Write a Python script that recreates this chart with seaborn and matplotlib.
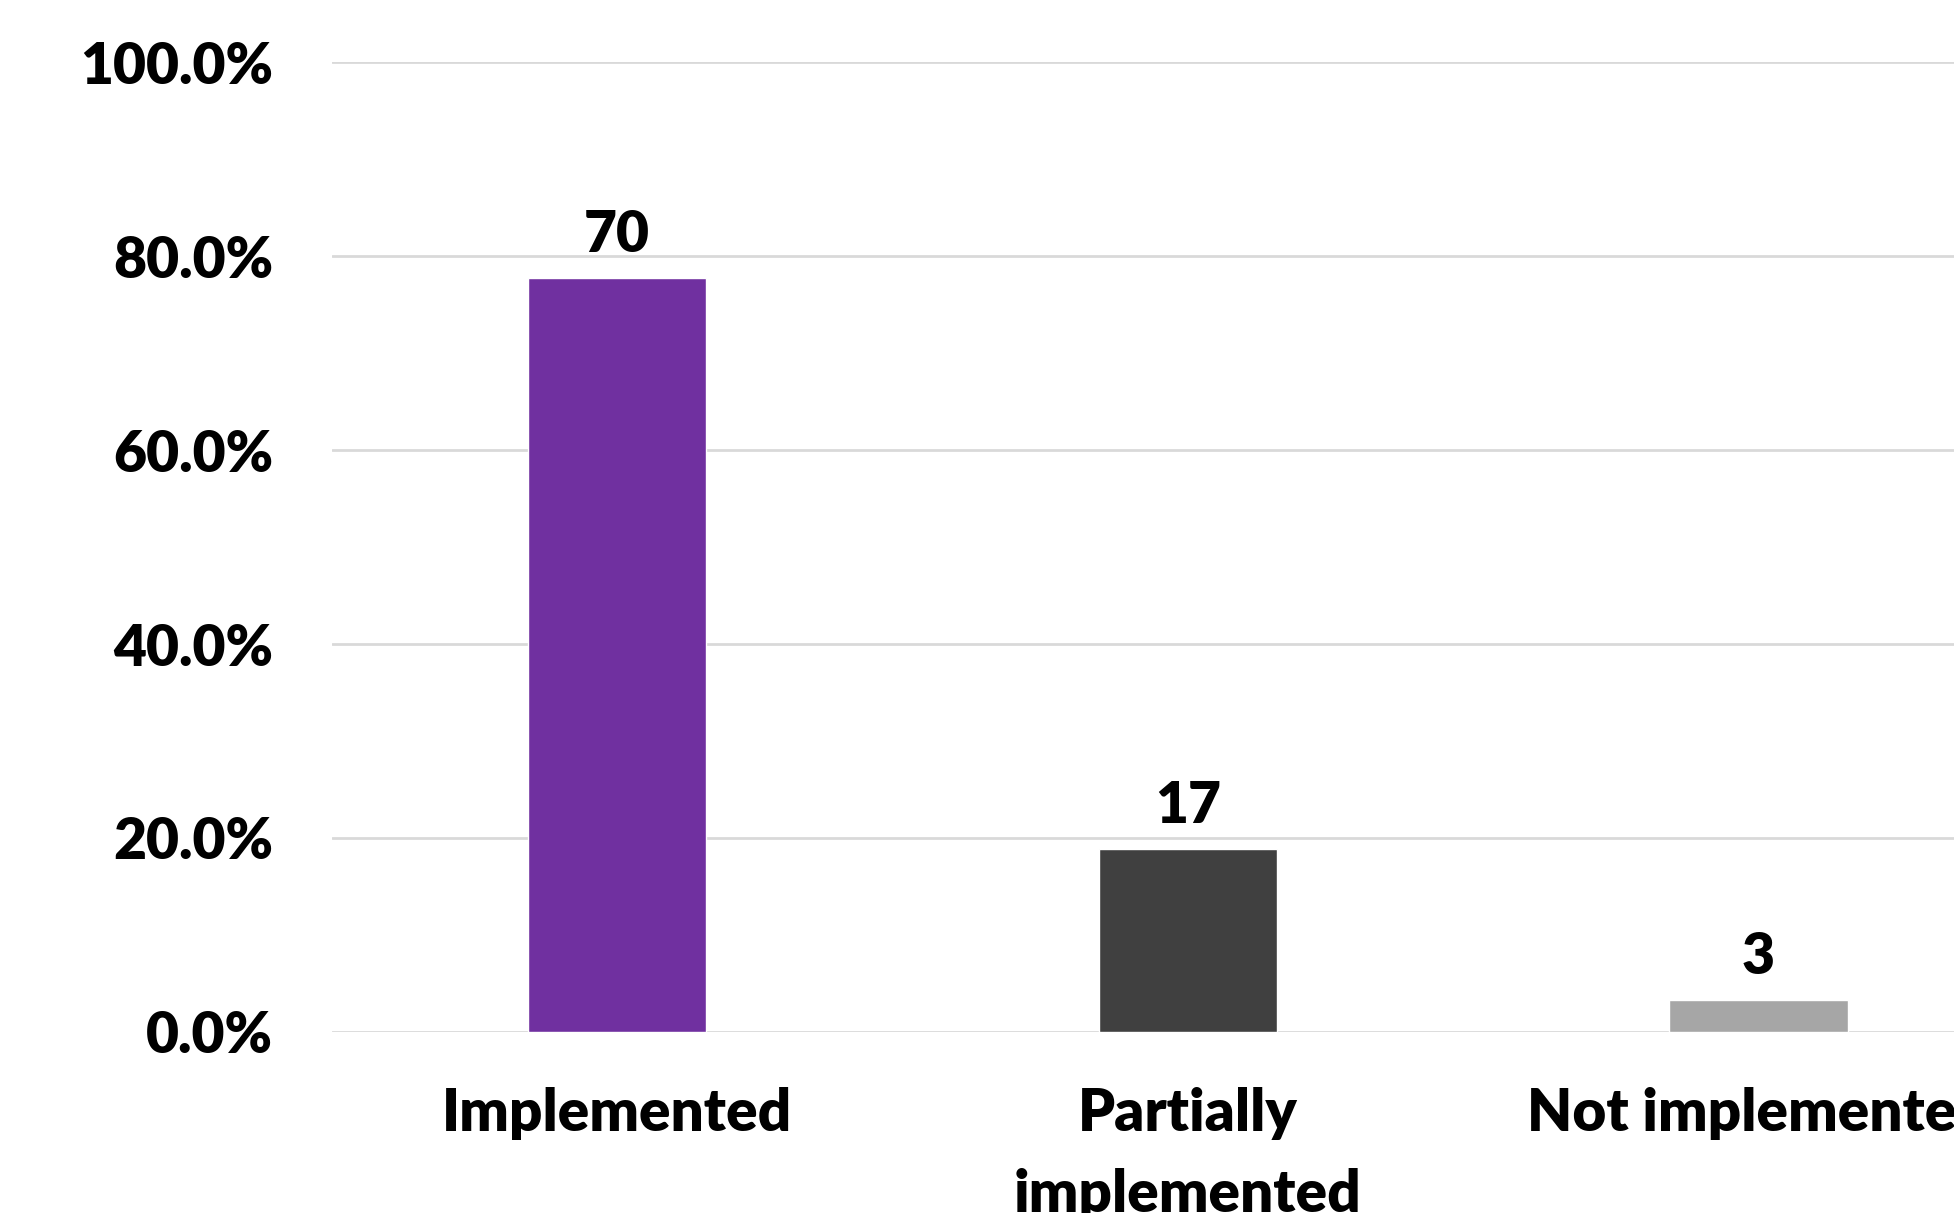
import matplotlib
matplotlib.use("Agg")
import matplotlib.pyplot as plt
import seaborn as sns
import pandas as pd
from matplotlib.ticker import PercentFormatter

categories = ["Implemented", "Partially\nimplemented", "Not implemented"]
counts = [70, 17, 3]
percents = [77.8, 18.9, 3.3]
colors = ["#7030A0", "#404040", "#A6A6A6"]
yticks = [0, 20, 40, 60, 80, 100]

sns.set_theme(style="white")
plt.rcParams['font.family'] = ['Lato', 'DejaVu Sans']
plt.rcParams['font.weight'] = 'heavy'

df = pd.DataFrame({"cat": categories, "pct": percents, "n": counts})

fig = plt.figure(figsize=(19.54, 12.13), dpi=100)
ax = fig.add_axes([0.1697, 0.1493, 0.8763, 0.7993])
sns.barplot(data=df, x="cat", y="pct", hue="cat", palette=colors, width=0.312,
            legend=False, ax=ax, saturation=1)
ax.set_xlim(-0.5, 2.5)
ax.set_ylim(0, 100)
ax.set_yticks(yticks)
ax.yaxis.set_major_formatter(PercentFormatter(decimals=1))
ax.grid(axis="y", color="#d9d9d9", linewidth=2)
ax.set_axisbelow(True)
for s in ax.spines.values():
    s.set_visible(False)
ax.set_xlabel("")
ax.set_ylabel("")
ax.tick_params(axis="y", length=0, pad=42, labelsize=41, labelcolor="black")
ax.tick_params(axis="x", length=0, pad=40, labelsize=42, labelcolor="black")
for lbl in ax.get_xticklabels() + ax.get_yticklabels():
    lbl.set_fontweight("heavy")
for lbl in ax.get_xticklabels():
    lbl.set_linespacing(1.63)
for i, cont in enumerate(ax.containers):
    ax.bar_label(cont, labels=[str(counts[i])], padding=12, fontsize=41,
                 fontweight="heavy", color="black")
fig.savefig("out.png", dpi=100)
